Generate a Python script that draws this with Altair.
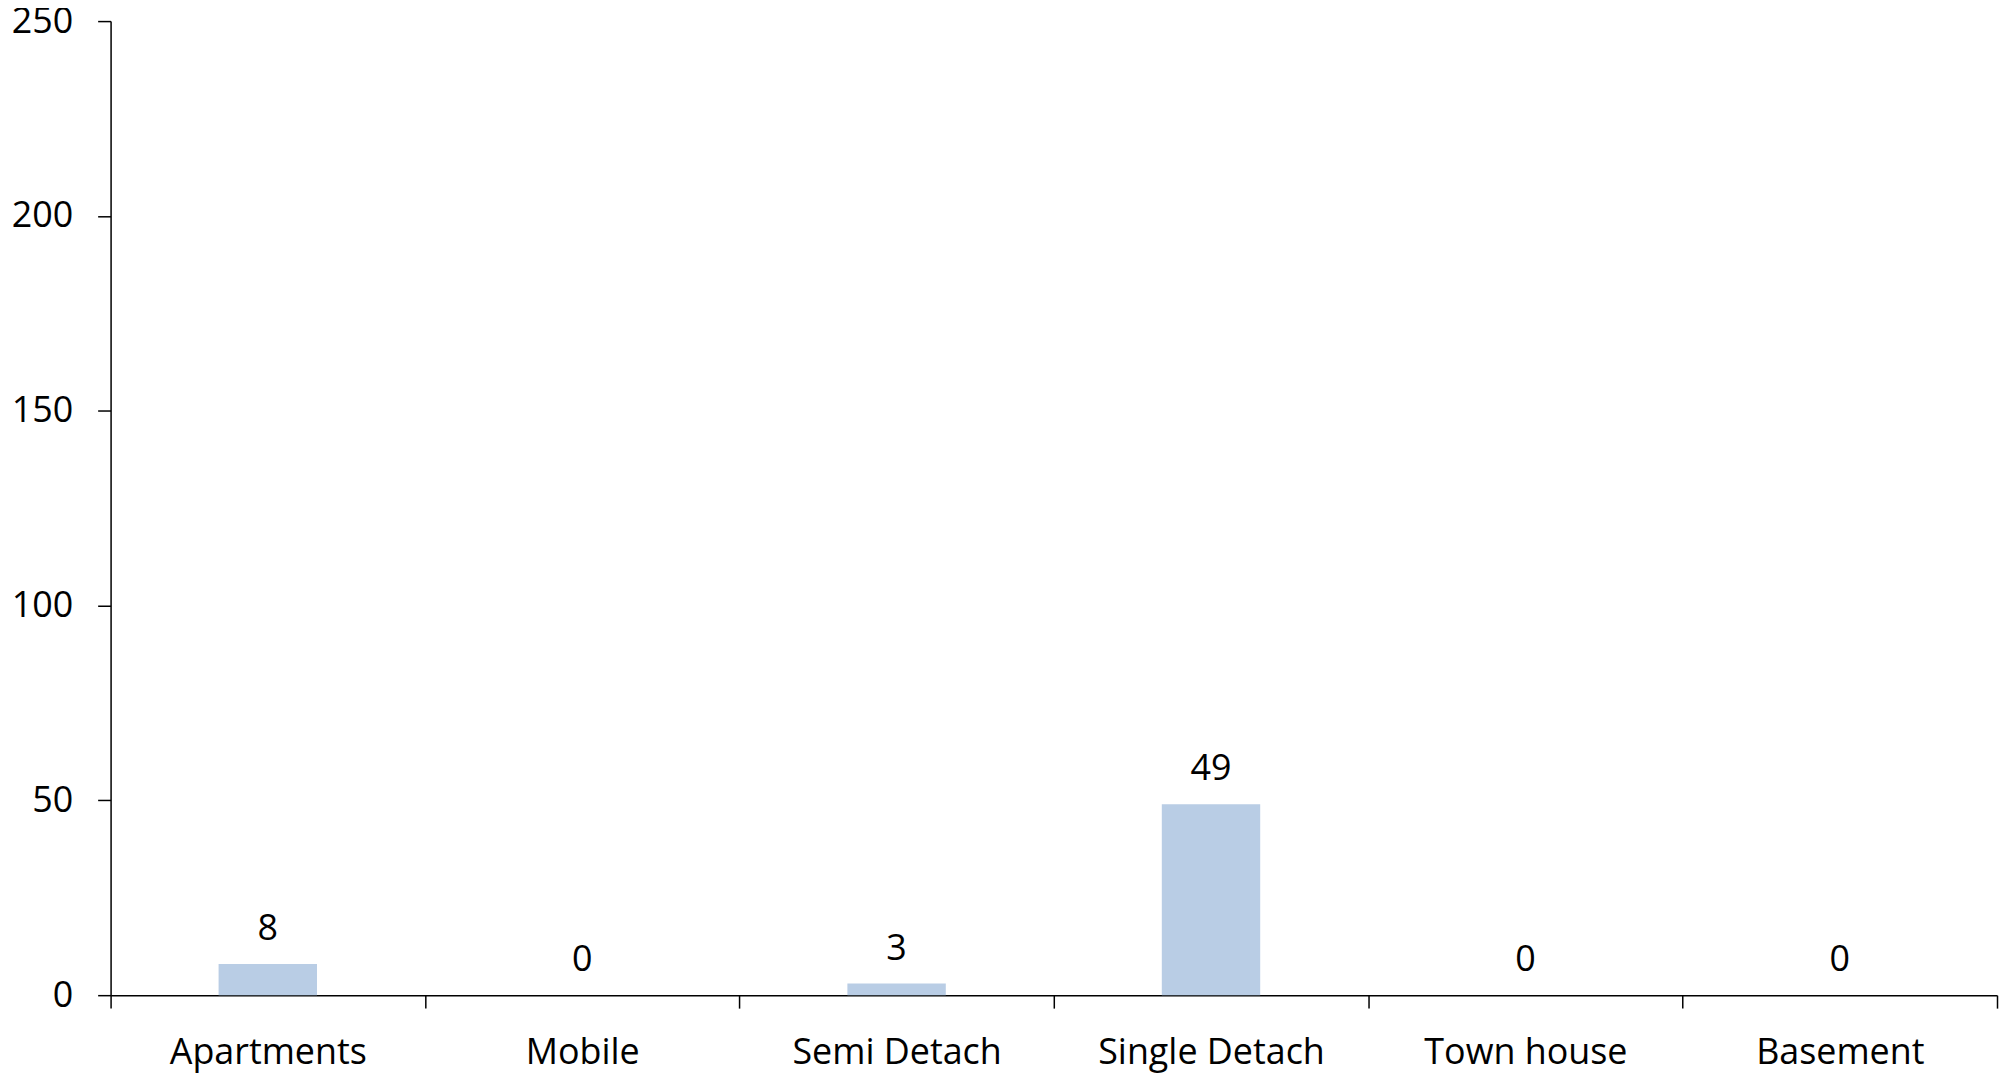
import altair as alt
import pandas as pd

categories = ["Apartments", "Mobile", "Semi Detach", "Single Detach", "Town house", "Basement"]
values = [8, 0, 3, 49, 0, 0]

df = pd.DataFrame({"category": categories, "value": values})

FONT = "Open Sans"
FS = 36

x_enc = alt.X(
    "category:N",
    sort=categories,
    scale=alt.Scale(paddingInner=0, paddingOuter=0),
    axis=alt.Axis(
        title=None,
        labelAngle=0,
        labelLimit=0,
        tickBand="extent",
        tickSize=13,
        tickColor="#000",
        tickWidth=1.5,
        domainColor="#000",
        domainWidth=1.5,
        labelFont=FONT,
        labelFontSize=FS,
        labelColor="#000",
        labelPadding=28,
        grid=False,
    ),
)

y_enc = alt.Y(
    "value:Q",
    scale=alt.Scale(domain=[0, 250], nice=False),
    axis=alt.Axis(
        title=None,
        values=[0, 50, 100, 150, 200, 250],
        tickSize=13,
        tickColor="#000",
        tickWidth=1.5,
        domainColor="#000",
        domainWidth=1.5,
        labelFont=FONT,
        labelFontSize=FS,
        labelColor="#000",
        labelPadding=25,
        grid=False,
    ),
)

bars = alt.Chart(df).mark_bar(color="#B9CDE5", width=alt.RelativeBandSize(0.313)).encode(x=x_enc, y=y_enc)

labels = alt.Chart(df).mark_text(
    font=FONT, fontSize=FS, color="#000", baseline="alphabetic", dy=-24
).encode(
    x=alt.X("category:N", sort=categories),
    y=alt.Y("value:Q"),
    text=alt.Text("value:Q"),
)

chart = (
    alt.layer(bars, labels)
    .properties(
        width=1894,
        height=978,
        background="white",
        autosize=alt.AutoSizeParams(type="none"),
        padding={"left": 103, "top": 11, "right": 2, "bottom": 77},
    )
    .configure_view(stroke=None)
    .configure_axis(grid=False)
)

chart.save("out.html", embed_options={"renderer": "svg", "actions": False})
